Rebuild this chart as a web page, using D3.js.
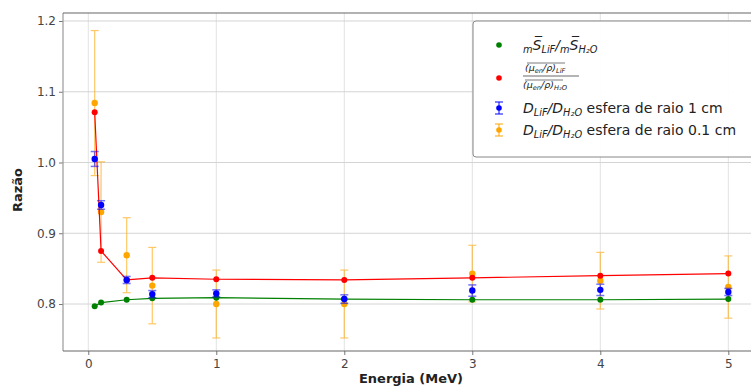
<!DOCTYPE html>
<html><head><meta charset="utf-8">
<script src="https://cdn.jsdelivr.net/npm/d3@7"></script>
<style>body{margin:0;background:#fff}svg{display:block;font-family:"DejaVu Sans",sans-serif}</style>
</head><body>
<svg id="c" width="751" height="387"></svg>
<script>
const energies = [0.05, 0.1, 0.3, 0.5, 1, 2, 3, 4, 5];
const stoppingRatio = [0.797, 0.802, 0.806, 0.808, 0.809, 0.807, 0.806, 0.806, 0.807];
const muenRatio = [1.071, 0.875, 0.834, 0.837, 0.835, 0.834, 0.837, 0.840, 0.843];
const dose1cm = [1.005, 0.940, 0.834, 0.814, 0.815, 0.807, 0.819, 0.820, 0.817];
const dose1cmErr = [0.0105, 0.006, 0.005, 0.005, 0.005, 0.006, 0.008, 0.008, 0.005];
const dose01cm = [1.084, 0.930, 0.869, 0.826, 0.800, 0.800, 0.843, 0.833, 0.824];
const dose01cmErr = [0.1025, 0.071, 0.053, 0.054, 0.048, 0.048, 0.040, 0.040, 0.044];
const xTicks = [0, 1, 2, 3, 4, 5];
const yTicks = [0.8, 0.9, 1.0, 1.1, 1.2];

const svg = d3.select("#c");
const L = 63, R = 760, T = 13, B = 351;
const x = d3.scaleLinear().domain([-0.1975, 5.2475]).range([L, R]);
const y = d3.scaleLinear().domain([0.7336, 1.2113]).range([B, T]);

// grid
const g = svg.append("g");
g.selectAll(".gx").data(xTicks).enter().append("line")
  .attr("x1", d => x(d)).attr("x2", d => x(d)).attr("y1", T).attr("y2", B)
  .attr("stroke", "#e2e2e2").attr("stroke-width", 1);
g.selectAll(".gy").data(yTicks).enter().append("line")
  .attr("x1", L).attr("x2", R).attr("y1", d => y(d)).attr("y2", d => y(d))
  .attr("stroke", "#d4d4d4").attr("stroke-width", 1);

// axes
const ax = svg.append("g").attr("transform", `translate(0,${B})`)
  .call(d3.axisBottom(x).tickValues(xTicks).tickFormat(d3.format("d")).tickSize(4).tickPadding(4));
const ay = svg.append("g").attr("transform", `translate(${L},0)`)
  .call(d3.axisLeft(y).tickValues(yTicks).tickFormat(d3.format(".1f")).tickSize(4).tickPadding(3));
[ax, ay].forEach(a => {
  a.select(".domain").remove();
  a.selectAll("line").attr("stroke", "#777");
  a.selectAll("text").attr("fill", "#444").style("font-size", "12px").style("font-family", "DejaVu Sans");
});
// spines
svg.append("line").attr("x1", L).attr("x2", L).attr("y1", T).attr("y2", B).attr("stroke", "#999").attr("stroke-width", 1.2);
svg.append("line").attr("x1", L).attr("x2", R).attr("y1", B).attr("y2", B).attr("stroke", "#666").attr("stroke-width", 1.2);
svg.append("line").attr("x1", L).attr("x2", R).attr("y1", T).attr("y2", T).attr("stroke", "#666").attr("stroke-width", 1.2);

// labels
svg.append("text").attr("x", 411).attr("y", 383).attr("text-anchor", "middle")
  .style("font-size", "13px").style("font-weight", "bold").attr("fill", "#222").text("Energia (MeV)");
svg.append("text").attr("transform", "translate(22,190) rotate(-90)").attr("text-anchor", "middle")
  .style("font-size", "13px").style("font-weight", "bold").attr("fill", "#222").text("Razão");

const plot = svg.append("g");
function errorbars(vals, errs, color, opacity, cap, lw) {
  const gg = plot.append("g").attr("opacity", opacity);
  energies.forEach((e, i) => {
    const cx = x(e), y0 = y(vals[i] - errs[i]), y1 = y(vals[i] + errs[i]);
    gg.append("line").attr("x1", cx).attr("x2", cx).attr("y1", y0).attr("y2", y1).attr("stroke", color).attr("stroke-width", lw);
    [y0, y1].forEach(yy => gg.append("line").attr("x1", cx - cap).attr("x2", cx + cap).attr("y1", yy).attr("y2", yy).attr("stroke", color).attr("stroke-width", lw));
  });
  return gg;
}
// orange error bars (0.1 cm)
errorbars(dose01cm, dose01cmErr, "orange", 0.6, 4, 1.2);
plot.append("g").selectAll("circle").data(energies).enter().append("circle")
  .attr("cx", d => x(d)).attr("cy", (d, i) => y(dose01cm[i])).attr("r", 3.2).attr("fill", "orange");

// lines
const line = d3.line().x(d => x(d[0])).y(d => y(d[1]));
function series(vals, color) {
  plot.append("path").datum(energies.map((e, i) => [e, vals[i]])).attr("d", line)
    .attr("fill", "none").attr("stroke", color).attr("stroke-width", 1.2);
  plot.append("g").selectAll("circle").data(energies).enter().append("circle")
    .attr("cx", d => x(d)).attr("cy", (d, i) => y(vals[i])).attr("r", 3).attr("fill", color);
}
series(stoppingRatio, "green");
series(muenRatio, "red");

// blue error bars (1 cm)
errorbars(dose1cm, dose1cmErr, "blue", 0.55, 4, 1.5);
plot.append("g").selectAll("circle").data(energies).enter().append("circle")
  .attr("cx", d => x(d)).attr("cy", (d, i) => y(dose1cm[i])).attr("r", 3.2).attr("fill", "blue");

// legend
const lg = svg.append("g");
lg.append("rect").attr("x", 473).attr("y", 21).attr("width", 290).attr("height", 136).attr("rx", 3)
  .attr("fill", "white").attr("fill-opacity", 0.95).attr("stroke", "#888").attr("stroke-width", 1);
const mx = 499, tx = 523;
lg.append("circle").attr("cx", mx).attr("cy", 45).attr("r", 2.8).attr("fill", "green");
lg.append("circle").attr("cx", mx).attr("cy", 78).attr("r", 2.8).attr("fill", "red");
[[108, "blue", 0.7], [130, "orange", 0.7]].forEach(([cy, c, op]) => {
  const gg = lg.append("g");
  gg.append("line").attr("x1", mx).attr("x2", mx).attr("y1", cy - 6).attr("y2", cy + 6).attr("stroke", c).attr("stroke-width", 1.4).attr("opacity", op);
  [cy - 6, cy + 6].forEach(yy => gg.append("line").attr("x1", mx - 4).attr("x2", mx + 4).attr("y1", yy).attr("y2", yy).attr("stroke", c).attr("stroke-width", 1.4).attr("opacity", op));
  gg.append("circle").attr("cx", mx).attr("cy", cy).attr("r", 2.8).attr("fill", c);
});

function richText(xp, yp, parts, size) {
  const t = lg.append("text").attr("x", xp).attr("y", yp).style("font-size", size + "px").attr("fill", "#222");
  parts.forEach(p => {
    const ts = t.append("tspan").text(p.t);
    if (p.i) ts.style("font-style", "italic");
    if (p.s) ts.style("font-size", (size * 0.7) + "px");
    if (p.dy) ts.attr("dy", p.dy);
  });
  return t;
}
// entry 1
richText(tx, 50, [
  {t: "m", s: 1, i: 1, dy: 3}, {t: "S\u0305", i: 1, dy: -3}, {t: "LiF", s: 1, i: 1, dy: 3},
  {t: "/", i: 1, dy: -3}, {t: "m", s: 1, i: 1, dy: 3}, {t: "S\u0305", i: 1, dy: -3}, {t: "H\u2082O", s: 1, i: 1, dy: 3}
], 14);
// entry 2 fraction
richText(tx + 2, 71, [{t: "(\u03bc", i: 1}, {t: "en", s: 1, i: 1, dy: 2}, {t: "/\u03c1)", i: 1, dy: -2}, {t: "LiF", s: 1, i: 1, dy: 2}], 9.5);
lg.append("line").attr("x1", tx + 4).attr("x2", tx + 42).attr("y1", 63).attr("y2", 63).attr("stroke", "#444").attr("stroke-width", 0.7);
lg.append("line").attr("x1", tx).attr("x2", tx + 56).attr("y1", 76).attr("y2", 76).attr("stroke", "#444").attr("stroke-width", 0.8);
richText(tx, 88, [{t: "(\u03bc", i: 1}, {t: "en", s: 1, i: 1, dy: 2}, {t: "/\u03c1)", i: 1, dy: -2}, {t: "H\u2082O", s: 1, i: 1, dy: 2}], 9.5);
lg.append("line").attr("x1", tx + 2).attr("x2", tx + 40).attr("y1", 80).attr("y2", 80).attr("stroke", "#444").attr("stroke-width", 0.7);
// entries 3 and 4
[[113, "esfera de raio 1 cm"], [135, "esfera de raio 0.1 cm"]].forEach(([yy, s]) => {
  richText(tx, yy, [
    {t: "D", i: 1}, {t: "LiF", s: 1, i: 1, dy: 3}, {t: "/D", i: 1, dy: -3}, {t: "H\u2082O", s: 1, i: 1, dy: 3},
    {t: " " + s, dy: -3}
  ], 14);
});
</script>
</body></html>
